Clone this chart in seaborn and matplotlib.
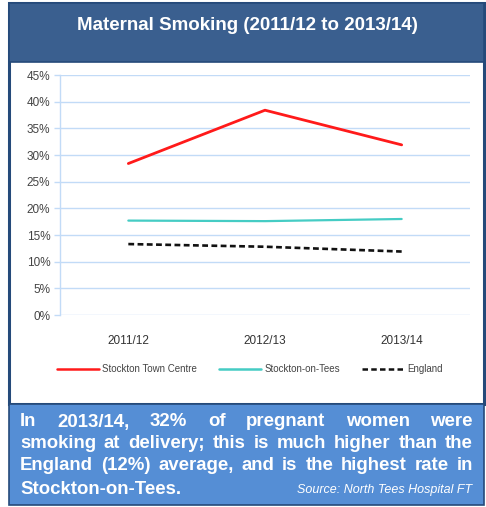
import numpy as np
import pandas as pd
import matplotlib
matplotlib.use('Agg')
import matplotlib.pyplot as plt
import seaborn as sns
from matplotlib.patches import Rectangle
from matplotlib.ticker import PercentFormatter

years = ['2011/12', '2012/13', '2013/14']
town_centre = [28.4, 38.4, 31.9]
stockton = [17.7, 17.6, 18.0]
england = [13.3, 12.8, 11.9]
series_names = ['Stockton Town Centre', 'Stockton-on-Tees', 'England']
yticks = [0, 5, 10, 15, 20, 25, 30, 35, 40, 45]

title = 'Maternal Smoking (2011/12 to 2013/14)'
note_lines = ['In 2013/14, 32% of pregnant women were',
              'smoking at delivery; this is much higher than the',
              'England (12%) average, and is the highest rate in',
              'Stockton-on-Tees.']
source = 'Source: North Tees Hospital FT'

df = pd.DataFrame({
    'year': years * 3,
    'value': town_centre + stockton + england,
    'series': [s for s in series_names for _ in years],
})

sns.set_style('white')
plt.rcParams['font.family'] = ['Liberation Sans', 'DejaVu Sans']

W, H = 486, 507
fig = plt.figure(figsize=(W / 100, H / 100), dpi=100)

dark = '#3A5F8F'
light = '#558ED5'
edge = '#254A7A'


def box(x0, y0, x1, y1, **kw):
    fig.patches.append(Rectangle((x0 / W, 1 - y1 / H), (x1 - x0) / W, (y1 - y0) / H,
                                 transform=fig.transFigure, zorder=-5, **kw))


# frame panels
box(9, 3, 484, 404, facecolor='white', edgecolor=edge, linewidth=2.2)
box(9, 3, 484, 62, facecolor=dark, edgecolor=edge, linewidth=1.2)
box(9, 404, 484, 505, facecolor=light, edgecolor=edge, linewidth=1.2)

fig.text(247 / W, 1 - 25 / H, title, color='white', fontsize=13.5,
         fontweight='bold', ha='center', va='center')

ax = fig.add_axes([60 / W, 1 - 315 / H, 410 / W, 240 / H])
ax.patch.set_alpha(0)
palette = {'Stockton Town Centre': '#FF1A1A', 'Stockton-on-Tees': '#45CCC4',
           'England': '#111111'}
dashes = {'Stockton Town Centre': '', 'Stockton-on-Tees': '', 'England': (2.2, 1.3)}
sns.lineplot(data=df, x='year', y='value', hue='series', style='series',
             palette=palette, dashes=dashes, hue_order=series_names,
             style_order=series_names, ax=ax, linewidth=1.8)
for line, lw in zip(ax.get_lines()[:3], [2.0, 1.6, 1.9]):
    line.set_linewidth(lw)

grid_c = '#C2DBF7'
ax.set_ylim(0, 45)
ax.set_xlim(-0.5, 2.5)
ax.set_yticks(yticks)
ax.yaxis.set_major_formatter(PercentFormatter(decimals=0))
ax.yaxis.grid(True, color=grid_c, linewidth=1.0)
ax.set_axisbelow(True)
for s in ['top', 'right', 'bottom']:
    ax.spines[s].set_visible(False)
ax.spines['left'].set_color(grid_c)
ax.spines['left'].set_linewidth(1.0)
ax.tick_params(axis='y', left=True, length=4, width=1.0, color=grid_c,
               labelsize=8.5, labelcolor='#444444', pad=3)
ax.tick_params(axis='x', bottom=False, labelsize=8.5, labelcolor='#333333', pad=11)
ax.set_xlabel('')
ax.set_ylabel('')

handles, labels = ax.get_legend_handles_labels()
ax.legend(handles, labels, loc='center', bbox_to_anchor=(250 / W, 1 - 369 / H),
          bbox_transform=fig.transFigure, ncol=3, frameon=False, fontsize=7,
          handlelength=4.3, handletextpad=0.35, columnspacing=2.3,
          labelcolor='#444444')

# justified note text
fig.canvas.draw()
renderer = fig.canvas.get_renderer()
fs = 13.4
left_px, right_px = 20, 473
line_y = [422, 444, 466, 489]
for i, (txt, yy) in enumerate(zip(note_lines, line_y)):
    words = txt.split(' ')
    if i == len(note_lines) - 1:
        fig.text(left_px / W, 1 - yy / H, txt, color='white', fontsize=fs,
                 fontweight='bold', ha='left', va='center')
        continue
    tw = []
    for w in words:
        t = fig.text(0, 0, w, fontsize=fs, fontweight='bold')
        tw.append(t.get_window_extent(renderer).width)
        t.remove()
    gap = (right_px - left_px - sum(tw)) / (len(words) - 1)
    x = left_px
    for w, wd in zip(words, tw):
        fig.text(x / W, 1 - yy / H, w, color='white', fontsize=fs,
                 fontweight='bold', ha='left', va='center')
        x += wd + gap

fig.text(472 / W, 1 - 490 / H, source, color='white', fontsize=9,
         style='italic', ha='right', va='center')

fig.savefig('out.png', dpi=100)
